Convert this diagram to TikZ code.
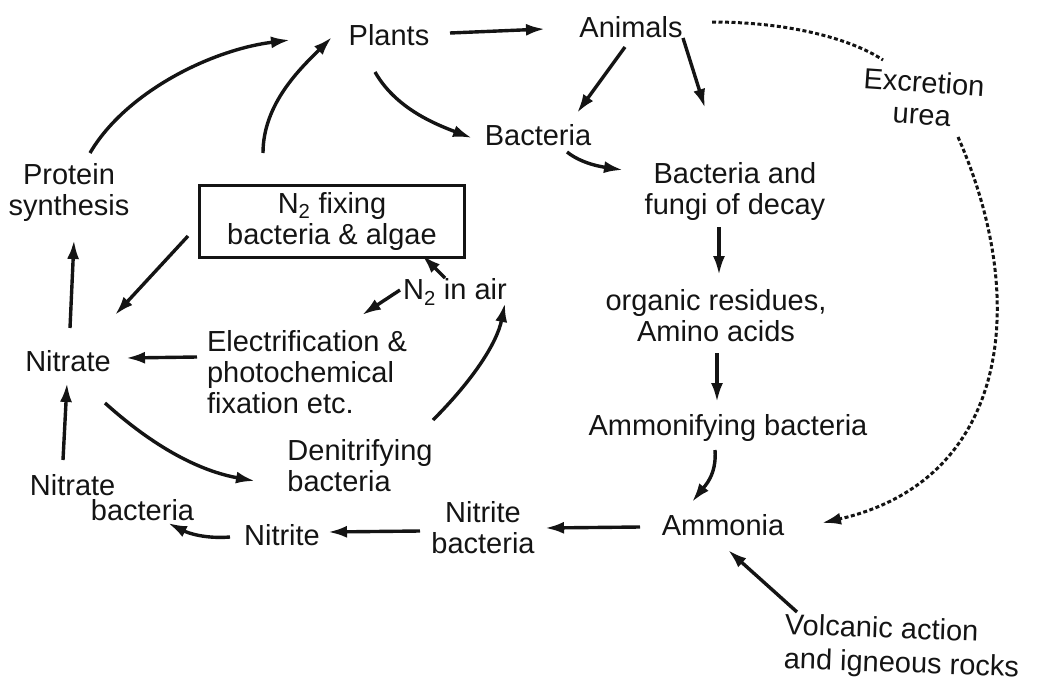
\documentclass[tikz,border=0pt]{standalone}
\usepackage{fontspec}
\setmainfont{Liberation Sans}
\usetikzlibrary{arrows.meta}
\begin{document}
\begin{tikzpicture}[x=1pt,y=-1pt,
  lbl/.style={inner sep=0pt, font=\fontsize{29}{31}\selectfont, text=black!92},
  arr/.style={line width=3.4pt, draw=black!92, -{Latex[length=19pt,width=12pt]}},
  dotl/.style={line width=3pt, draw=black!92, dash pattern=on 4pt off 2.5pt},
  boxed/.style={draw=black!92, line width=3pt, minimum width=265pt, minimum height=72pt}]
\useasboundingbox (0,0) rectangle (1042,691);

% nodes
\node[lbl] (plants) at (389,35) {Plants};
\node[lbl] (animals) at (631,27) {Animals};
\node[lbl, align=center, rotate=-4] (excr) at (923,98) {Excretion\\[1pt]urea};
\node[lbl] (bact) at (538,135) {Bacteria};
\node[lbl, align=center] (decay) at (735,191) {Bacteria and\\fungi of decay};
\node[lbl, align=center] (organic) at (716,316) {organic residues,\\Amino acids};
\node[lbl] (ammonif) at (728,428) {Ammonifying bacteria};
\node[lbl] (ammonia) at (723,525) {Ammonia};
\node[lbl, align=left, rotate=-2] (volc) at (902,648) {Volcanic action\\[3pt]and igneous rocks};
\node[lbl, align=center] (nitbac) at (483,528) {Nitrite\\bacteria};
\node[lbl] (nitrite) at (282,535) {Nitrite};
\node[lbl, align=left] (natbac) at (112,498) {Nitrate\\[-6pt]\hspace*{61pt}bacteria};
\node[lbl] (nitrate) at (68,361) {Nitrate};
\node[lbl, align=center] (protein) at (69,192) {Protein\\synthesis};
\node[lbl, boxed, align=center] (fix) at (332,221) {N\textsubscript{2} fixing\\bacteria \& algae};
\node[lbl] (n2air) at (455,292) {N\textsubscript{2} in air};
\node[lbl, align=left] (elec) at (307,372) {Electrification \&\\photochemical\\fixation etc.};
\node[lbl, align=left] (denit) at (360,466) {Denitrifying\\bacteria};

% connectors
\draw[arr] ([shift={(61,-2)}]plants.center) -- ([shift={(-86,2)}]animals.center);
\draw[arr] ([shift={(21,-39)}]protein.center) .. controls +(35,-60) and +(-80,10) .. ([shift={(-99,5)}]plants.center);
\draw[arr] ([shift={(-69,-68)}]fix.center) .. controls +(0,-50) and +(-30,30) .. ([shift={(-57,2)}]plants.center);
\draw[arr] ([shift={(-14,37)}]plants.center) .. controls +(20,35) and +(-40,-15) .. ([shift={(-66,3)}]bact.center);
\draw[arr] ([shift={(-6,20)}]animals.center) -- ([shift={(39,-22)}]bact.center);
\draw[arr] ([shift={(52,11)}]animals.center) -- ([shift={(-30,-83)}]decay.center);
\draw[arr] ([shift={(29,17)}]bact.center) .. controls +(15,12) and +(-20,-3) .. ([shift={(-112,-21)}]decay.center);
\draw[arr] ([shift={(-16,36)}]decay.center) -- ([shift={(3,-41)}]organic.center);
\draw[arr] ([shift={(1,37)}]organic.center) -- ([shift={(-11,-26)}]ammonif.center);
\draw[arr] ([shift={(-13,22)}]ammonif.center) .. controls +(2,25) and +(12,-15) .. ([shift={(-31,-23)}]ammonia.center);
\draw[dotl] ([shift={(81,-5)}]animals.center) .. controls +(80,0) and +(-30,-20) .. ([shift={(-40,-38)}]excr.center);
\draw[dotl, -{Latex[length=19pt,width=12pt]}] ([shift={(35,39)}]excr.center) .. controls +(72,163) and +(188,-43) .. ([shift={(99,-2)}]ammonia.center);
\draw[arr] ([shift={(-83,2)}]ammonia.center) -- ([shift={(62,0)}]nitbac.center);
\draw[arr] ([shift={(-63,3)}]nitbac.center) -- ([shift={(46,-3)}]nitrite.center);
\draw[arr] ([shift={(-52,2)}]nitrite.center) .. controls +(-25,2) and +(20,10) .. ([shift={(56,25)}]natbac.center);
\draw[arr] ([shift={(-49,-38)}]natbac.center) -- ([shift={(-1,22)}]nitrate.center);
\draw[arr] ([shift={(2,-33)}]nitrate.center) -- ([shift={(5,48)}]protein.center);
\draw[arr] ([shift={(-144,15)}]fix.center) -- ([shift={(47,-46)}]nitrate.center);
\draw[arr] ([shift={(-110,-15)}]elec.center) -- ([shift={(58,-3)}]nitrate.center);
\draw[arr] ([shift={(37,42)}]nitrate.center) .. controls +(50,45) and +(-55,-10) .. ([shift={(-105,15)}]denit.center);
\draw[arr] ([shift={(73,-46)}]denit.center) .. controls +(40,-40) and +(-8,40) .. ([shift={(50,11)}]n2air.center);
\draw[arr] ([shift={(-55,-2)}]n2air.center) -- ([shift={(55,-57)}]elec.center);
\draw[arr] ([shift={(-10,-14)}]n2air.center) -- ([shift={(90,34)}]fix.center);
\draw[arr] ([shift={(-105,-36)}]volc.center) -- ([shift={(5,25)}]ammonia.center);
\end{tikzpicture}
\end{document}
